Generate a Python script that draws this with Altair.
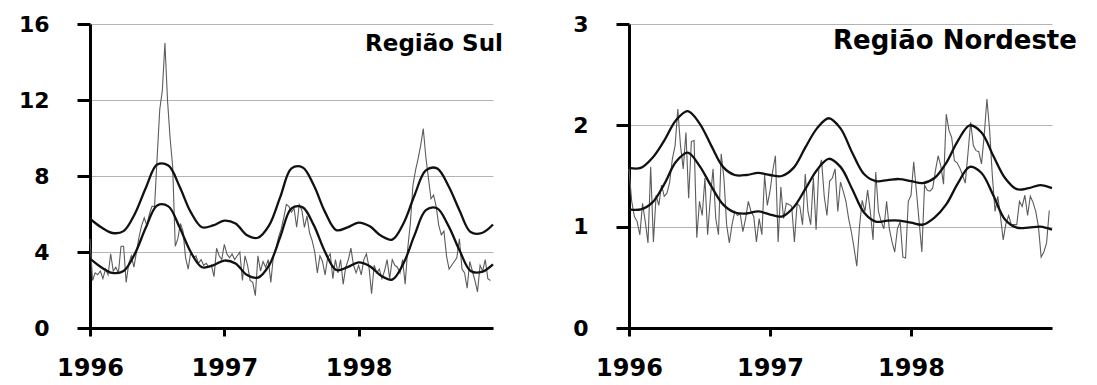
import altair as alt
import pandas as pd

# ---------------- data ----------------
years_ticks = [1996, 1997, 1998]

# Região Sul - weekly observed
sul_obs = [4.7, 2.5, 2.9, 2.8, 3.0, 2.6, 3.1, 2.8, 3.9, 3.0,
           3.2, 2.9, 4.3, 4.3, 2.4, 3.4, 3.8, 3.2, 4.0, 4.8,
           5.4, 5.8, 5.4, 6.0, 6.4, 6.4, 9.0, 11.5, 12.5, 15.0,
           12.0, 10.0, 8.5, 4.3, 4.7, 5.5, 5.1, 3.7, 3.1, 4.0,
           3.7, 3.8, 3.4, 3.6, 3.3, 3.4, 3.2, 3.3, 2.7, 4.2,
           3.8, 3.6,
           4.4, 3.9, 3.7, 3.9, 3.6, 3.8, 4.0, 2.5, 3.8, 3.3,
           2.5, 2.4, 1.7, 3.8, 3.0, 3.5, 3.2, 3.6, 2.4, 3.8,
           4.2, 4.8, 5.2, 5.8, 6.5, 6.4, 6.1, 6.3, 5.3, 6.5,
           6.2, 5.3, 5.9, 5.0, 4.6, 4.0, 2.9, 3.8, 3.5, 2.8,
           3.7, 3.9, 2.6, 3.6, 2.9, 3.6, 2.3, 3.2, 3.6, 4.2,
           3.3, 2.9,
           3.3, 2.8, 3.6, 3.9, 3.2, 1.8, 3.3, 2.9, 3.1, 2.6,
           3.0, 3.6, 2.6, 3.6, 3.3, 3.2, 2.9, 3.6, 2.3, 4.2,
           5.5, 7.5, 8.3, 8.9, 9.6, 10.5, 9.0, 7.9, 6.8, 7.0,
           6.4, 5.4, 4.9, 5.1, 3.8, 3.1, 3.3, 3.5, 3.7, 4.7,
           3.1, 2.9, 2.1, 3.5, 3.0, 2.5, 1.9, 3.3, 3.0, 3.6,
           2.6, 2.5]

# Região Sul - monthly expected (lower) and threshold (upper)
sul_lower = [3.65, 3.2, 2.9, 3.0, 3.9, 5.3, 6.45, 6.4, 5.3, 4.0, 3.2, 3.3,
             3.55, 3.4, 2.8, 2.65, 3.3, 4.8, 6.3, 6.35, 5.4, 4.0, 3.05, 3.2,
             3.45, 3.25, 2.75, 2.55, 3.4, 4.9, 6.2, 6.3, 5.4, 4.1, 3.0, 2.95,
             3.35]
sul_upper = [5.75, 5.3, 5.0, 5.1, 6.0, 7.4, 8.6, 8.55, 7.45, 6.1, 5.3, 5.4,
             5.65, 5.5, 4.9, 4.75, 5.4, 6.9, 8.4, 8.45, 7.5, 6.1, 5.15, 5.3,
             5.55, 5.35, 4.85, 4.65, 5.5, 7.0, 8.3, 8.4, 7.5, 6.2, 5.05, 5.0,
             5.45]

# Região Nordeste - weekly observed
ne_obs = [1.57, 1.25, 1.10, 1.05, 0.92, 1.23, 1.05, 0.84, 1.59, 0.85,
          1.31, 1.21, 1.41, 1.30, 1.33, 1.44, 1.67, 1.80, 2.16, 1.80,
          1.57, 1.93, 1.28, 1.84, 1.85, 0.89, 1.25, 1.11, 1.48, 0.92,
          1.28, 1.57, 1.08, 0.92, 1.72, 1.48, 1.02, 0.84, 1.02, 1.15,
          1.11, 1.13, 0.95, 1.08, 1.25, 1.15, 1.10, 0.85, 1.08, 0.92,
          1.51, 1.21,
          1.35, 1.55, 1.70, 0.85, 1.39, 1.08, 1.23, 1.22, 1.20, 0.85,
          1.23, 1.20, 1.02, 1.52, 1.15, 1.02, 1.48, 0.97, 1.57, 1.66,
          1.30, 1.11, 1.45, 1.48, 1.57, 1.15, 1.44, 1.35, 1.25, 1.08,
          0.95, 0.79, 0.61, 1.00, 1.26, 1.15, 1.36, 1.15, 0.87, 1.54,
          1.15, 1.05, 0.98, 1.25, 0.98, 0.85, 0.75, 0.98, 1.05, 0.70,
          0.69, 1.25,
          1.31, 1.64, 1.35, 1.05, 0.75, 1.41, 1.36, 1.35, 1.38, 1.55,
          1.70, 1.60, 1.42, 2.11, 1.95, 1.88, 1.65, 1.63, 1.58, 1.51,
          1.43, 1.72, 2.03, 1.80, 1.75, 1.74, 1.62, 1.90, 2.26, 1.95,
          1.50, 1.15, 1.30, 1.10, 0.87, 1.03, 1.11, 1.02, 1.02, 1.02,
          1.25, 1.20, 1.31, 1.11, 1.30, 1.24, 1.15, 1.00, 0.70, 0.75,
          0.84, 1.16]

ne_lower = [1.17, 1.17, 1.24, 1.42, 1.64, 1.73, 1.60, 1.40, 1.22, 1.14, 1.13, 1.15,
            1.12, 1.10, 1.19, 1.37, 1.56, 1.67, 1.59, 1.37, 1.14, 1.05, 1.06, 1.06,
            1.04, 1.02, 1.09, 1.22, 1.43, 1.59, 1.53, 1.31, 1.07, 0.99, 0.99, 1.00,
            0.97]
ne_upper = [1.58, 1.58, 1.68, 1.85, 2.05, 2.14, 2.02, 1.80, 1.59, 1.51, 1.51, 1.53,
            1.51, 1.50, 1.58, 1.78, 1.97, 2.07, 1.97, 1.73, 1.52, 1.45, 1.46, 1.47,
            1.45, 1.43, 1.48, 1.63, 1.85, 2.00, 1.93, 1.70, 1.48, 1.37, 1.38, 1.41,
            1.38]

FONT = "DejaVu Sans"


def weekly_df(vals):
    return pd.DataFrame({"t": [1996 + i / 52 for i in range(len(vals))], "v": vals})


def smooth_df(lower, upper):
    t = [1996 + k / 12 for k in range(len(lower))]
    return pd.DataFrame({"t": t + t, "v": lower + upper,
                         "s": ["lower"] * len(lower) + ["upper"] * len(upper)})


AXIS_STYLE = dict(labelFont=FONT, labelFontWeight="bold", labelColor="black",
                  domainColor="black", domainWidth=3, tickColor="black", tickWidth=3,
                  title=None)


def panel(obs, lower, upper, ymax, yvals, title, width, tx, ty, tsize):
    xenc = alt.X("t:Q",
                 scale=alt.Scale(domain=[1996, 1999], nice=False, zero=False),
                 axis=alt.Axis(values=years_ticks, format="d", grid=False,
                               tickSize=8, labelPadding=20, labelFontSize=24,
                               labelFlush=False, labelOverlap=False, **AXIS_STYLE))
    yenc = alt.Y("v:Q",
                 scale=alt.Scale(domain=[0, ymax], nice=False),
                 axis=alt.Axis(values=yvals, grid=True, gridColor="#b4b4b4",
                               gridWidth=1, tickSize=13, labelPadding=28,
                               labelFontSize=22, labelFlush=False, **AXIS_STYLE))
    noisy = alt.Chart(weekly_df(obs)).mark_line(
        color="#5c5c5c", strokeWidth=1.1).encode(x=xenc, y=yenc)
    smooth = alt.Chart(smooth_df(lower, upper)).mark_line(
        color="#111111", strokeWidth=2.3, interpolate="catmull-rom").encode(
        x=xenc, y=yenc, detail="s:N")
    label = alt.Chart(pd.DataFrame({"lab": [title]})).mark_text(
        font=FONT, fontWeight="bold", fontSize=tsize, color="black",
        align="center", baseline="middle").encode(
        x=alt.value(tx), y=alt.value(ty), text="lab:N")
    return alt.layer(noisy, smooth, label).properties(width=width, height=304)


left = panel(sul_obs, sul_lower, sul_upper, 16, [0, 4, 8, 12, 16],
             "Região Sul", 403, 344, 20, 23)
right = panel(ne_obs, ne_lower, ne_upper, 3, [0, 1, 2, 3],
              "Região Nordeste", 423, 326, 17, 26)

chart = alt.hconcat(left, right, spacing=136, bounds="flush").properties(
    padding={"left": 10, "top": 5, "right": 2, "bottom": 0},
    background="white",
).configure_view(stroke=None)

chart.save("out.html", embed_options={"renderer": "svg", "actions": False})
